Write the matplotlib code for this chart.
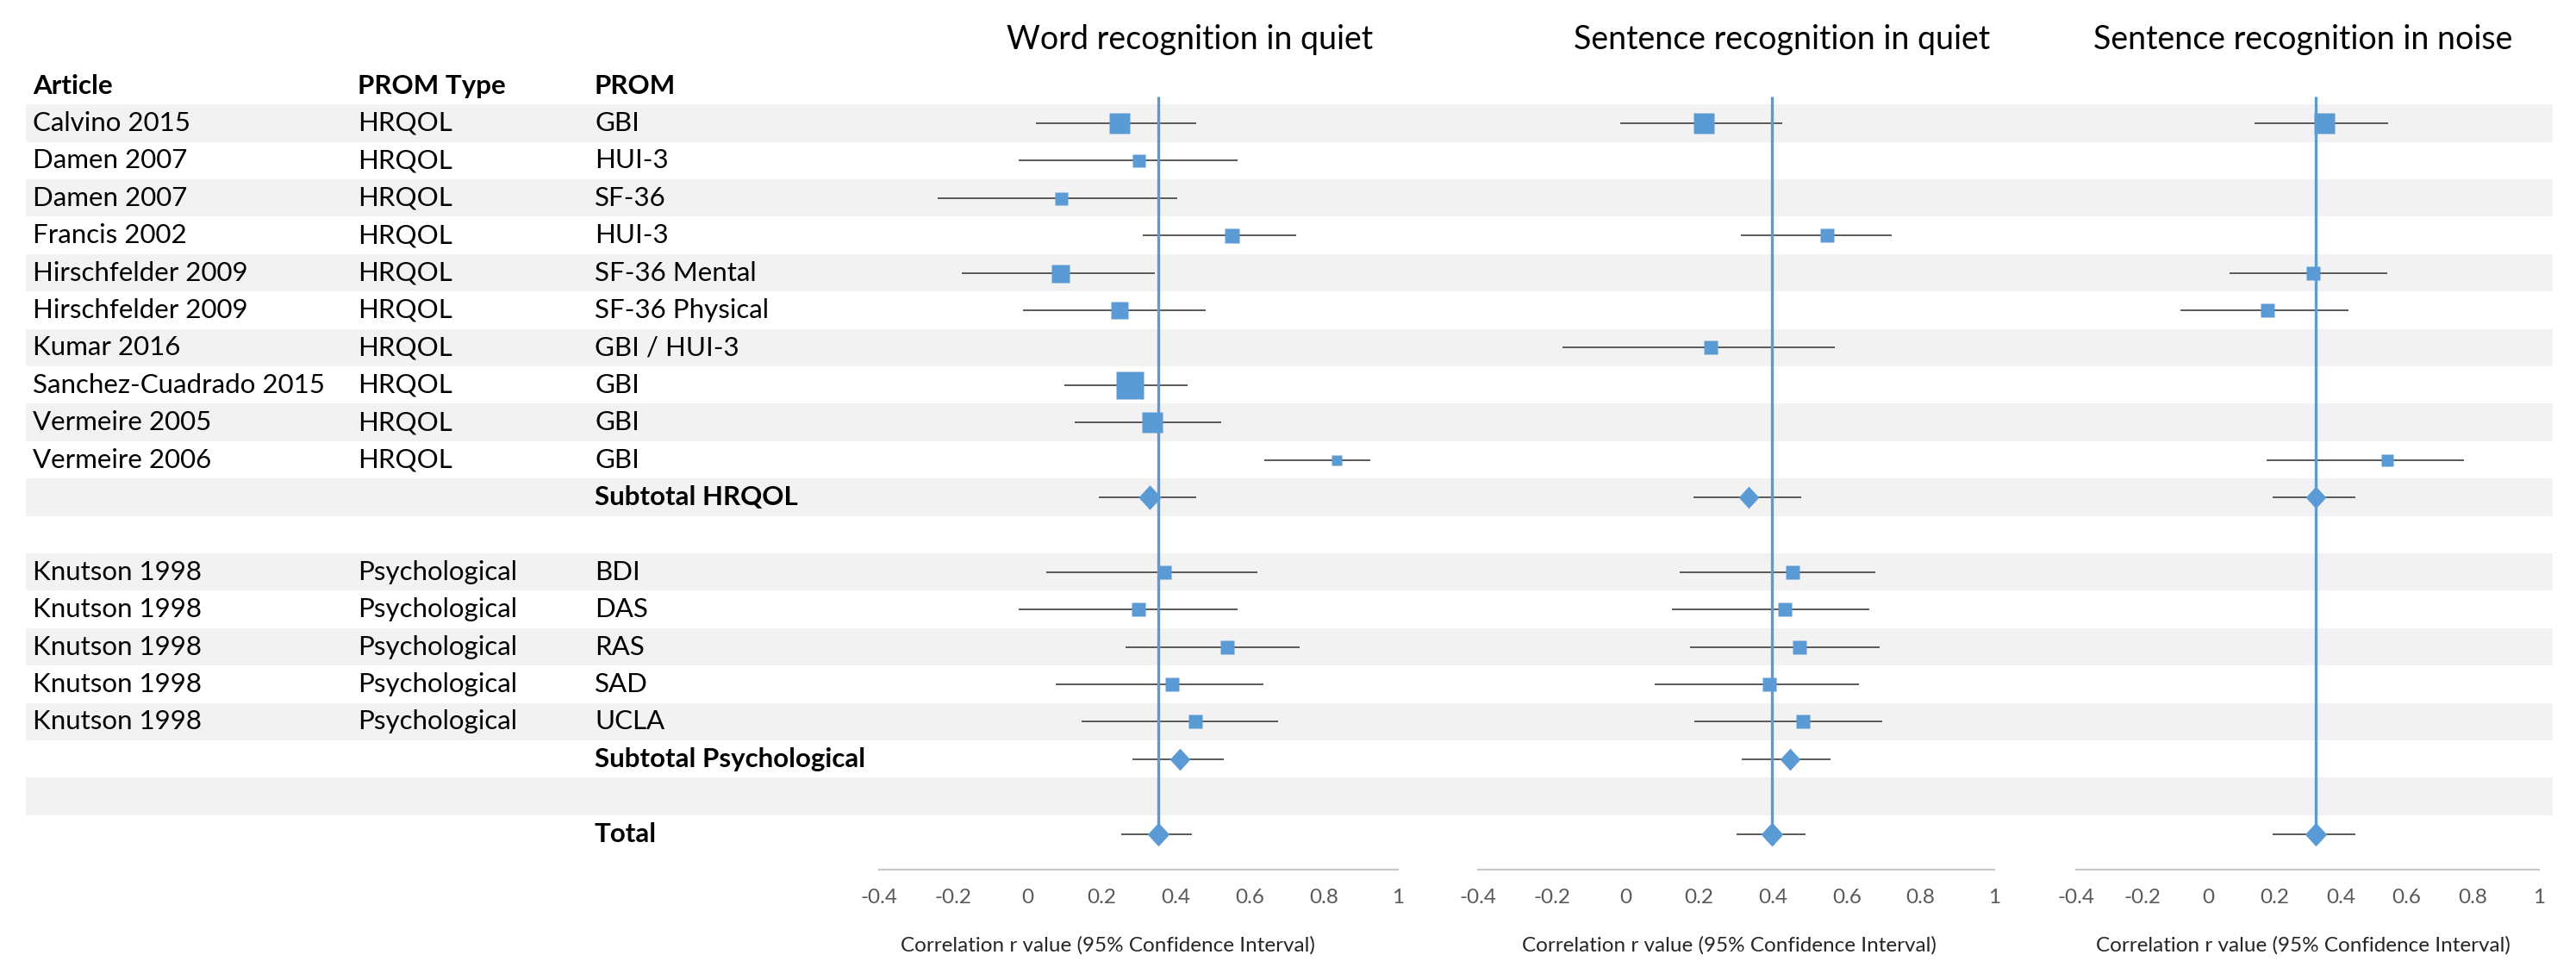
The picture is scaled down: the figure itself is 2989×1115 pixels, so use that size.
import numpy as np
import matplotlib
matplotlib.use('Agg')
import matplotlib.pyplot as plt

nan = np.nan
plt.rcParams['font.family'] = ['Lato', 'DejaVu Sans']

# ---------------- data ----------------
articles = ['Calvino 2015', 'Damen 2007', 'Damen 2007', 'Francis 2002', 'Hirschfelder 2009',
            'Hirschfelder 2009', 'Kumar 2016', 'Sanchez-Cuadrado 2015', 'Vermeire 2005', 'Vermeire 2006',
            '', '', 'Knutson 1998', 'Knutson 1998', 'Knutson 1998', 'Knutson 1998', 'Knutson 1998',
            '', '', '']
prom_types = ['HRQOL'] * 10 + ['', ''] + ['Psychological'] * 5 + ['', '', '']
proms = ['GBI', 'HUI-3', 'SF-36', 'HUI-3', 'SF-36 Mental', 'SF-36 Physical', 'GBI / HUI-3', 'GBI', 'GBI', 'GBI',
         'Subtotal HRQOL', '', 'BDI', 'DAS', 'RAS', 'SAD', 'UCLA', 'Subtotal Psychological', '', 'Total']
row_kind = ['study'] * 10 + ['pooled', 'blank'] + ['study'] * 5 + ['pooled', 'blank', 'pooled']

panel_titles = ['Word recognition in quiet', 'Sentence recognition in quiet', 'Sentence recognition in noise']
x_label = 'Correlation r value (95% Confidence Interval)'
tick_values = [-0.4, -0.2, 0, 0.2, 0.4, 0.6, 0.8, 1.0]
tick_labels = ['-0.4', '-0.2', '0', '0.2', '0.4', '0.6', '0.8', '1']

word_r = [0.249, 0.299, 0.091, 0.550, 0.089, 0.249, nan, 0.276, 0.337, 0.834,
          0.330, nan, 0.370, 0.299, 0.540, 0.391, 0.453, 0.411, nan, 0.353]
word_lo = [0.024, -0.024, -0.241, 0.312, -0.177, -0.012, nan, 0.100, 0.128, 0.640,
           0.192, nan, 0.052, -0.024, 0.264, 0.076, 0.147, 0.284, nan, 0.253]
word_hi = [0.456, 0.568, 0.405, 0.725, 0.345, 0.481, nan, 0.432, 0.524, 0.926,
           0.456, nan, 0.620, 0.568, 0.736, 0.637, 0.676, 0.531, nan, 0.444]
word_weight = [24.5, 15, 15, 17, 21, 20, nan, 32.6, 24.5, 12,
               28.6, nan, 15.6, 15.2, 15.6, 15.6, 16, 25.7, nan, 27.5]

sent_r = [0.212, nan, nan, 0.547, nan, nan, 0.230, nan, nan, nan,
          0.335, nan, 0.452, 0.431, 0.472, 0.391, 0.480, 0.445, nan, 0.396]
sent_lo = [-0.014, nan, nan, 0.312, nan, nan, -0.171, nan, nan, nan,
           0.184, nan, 0.147, 0.127, 0.176, 0.079, 0.187, 0.315, nan, 0.301]
sent_hi = [0.424, nan, nan, 0.721, nan, nan, 0.568, nan, nan, nan,
           0.476, nan, 0.677, 0.661, 0.689, 0.632, 0.697, 0.556, nan, 0.489]
sent_weight = [24, nan, nan, 16.5, nan, nan, 15.6, nan, nan, nan,
               25.7, nan, 15.6, 15.6, 15.6, 15.2, 15.2, 25.7, nan, 28]

noise_r = [0.351, nan, nan, nan, 0.318, 0.178, nan, nan, nan, 0.540,
           0.324, nan, nan, nan, nan, nan, nan, nan, nan, 0.324]
noise_lo = [0.140, nan, nan, nan, 0.064, -0.084, nan, nan, nan, 0.175,
            0.195, nan, nan, nan, nan, nan, nan, nan, nan, 0.195]
noise_hi = [0.544, nan, nan, nan, 0.540, 0.423, nan, nan, nan, 0.774,
            0.445, nan, nan, nan, nan, nan, nan, nan, nan, 0.445]
noise_weight = [24.4, nan, nan, nan, 16.8, 16.8, nan, nan, nan, 14.7,
                25.7, nan, nan, nan, nan, nan, nan, nan, nan, 27.5]

# ---------------- layout ----------------
W, H, DPI = 2989, 1115, 100
ROW1_PX, PITCH = 143.0, 43.4
PX2PT = 72.0 / DPI


def row_of(px):
    return 1 + (px - ROW1_PX) / PITCH


YLIM = (row_of(H), row_of(0))
BLUE = '#5B9BD5'
GREY_LINE = '#595959'
BAND = '#F2F2F2'
FS = 22.5

fig = plt.figure(figsize=(W / DPI, H / DPI), dpi=DPI)
fig.patch.set_facecolor('white')

bg = fig.add_axes([0, 0, 1, 1])
bg.set_xlim(0, W)
bg.set_ylim(*YLIM)
bg.axis('off')

n = len(proms)
rows = np.arange(1, n + 1)
for i in rows:
    if i % 2 == 1:
        bg.axhspan(i - 0.5, i + 0.5, xmin=30 / W, xmax=2962 / W, color=BAND, lw=0, zorder=0)

col_x = [38, 415, 690]
for x, h in zip(col_x, ['Article', 'PROM Type', 'PROM']):
    bg.text(x, 0, h, fontsize=FS, fontweight='bold', va='center', ha='left', color='black')
for i, a, t, p, k in zip(rows, articles, prom_types, proms, row_kind):
    bg.text(col_x[0], i, a, fontsize=FS, va='center', ha='left', color='black')
    bg.text(col_x[1], i, t, fontsize=FS, va='center', ha='left', color='black')
    bg.text(col_x[2], i, p, fontsize=FS, va='center', ha='left', color='black',
            fontweight='bold' if k == 'pooled' else 'normal')

diamond = [(0, 1), (0.92, 0), (0, -1), (-0.92, 0), (0, 1)]

panels = [
    (word_r, word_lo, word_hi, word_weight, (1020, 1622), 1381, 1285),
    (sent_r, sent_lo, sent_hi, sent_weight, (1715, 2314), 2068, 2006),
    (noise_r, noise_lo, noise_hi, noise_weight, (2409, 2946), 2672, 2672),
]

for title, (r, lo, hi, wt, (x0, x1), tx, lx) in zip(panel_titles, panels):
    r = np.array(r, float)
    lo = np.array(lo, float)
    hi = np.array(hi, float)
    wt = np.array(wt, float)
    ax = fig.add_axes([x0 / W, 0, (x1 - x0) / W, 1])
    ax.set_xlim(-0.4, 1.0)
    ax.set_ylim(*YLIM)
    ax.patch.set_alpha(0)
    for s in ['left', 'right', 'top']:
        ax.spines[s].set_visible(False)
    ax.spines['bottom'].set_position(('data', row_of(1009)))
    ax.spines['bottom'].set_color('#C8C8C8')
    ax.spines['bottom'].set_linewidth(1.6)
    ax.set_yticks([])
    ax.set_xticks(tick_values)
    ax.set_xticklabels(tick_labels, color='#595959', fontsize=17.5)
    ax.tick_params(axis='x', length=0, pad=16)

    m = ~np.isnan(r)
    ax.hlines(rows[m], lo[m], hi[m], color=GREY_LINE, lw=1.4, zorder=2)
    ax.vlines(r[-1], row_of(112), row_of(978), color=BLUE, lw=2.4, zorder=3)
    for i in rows[m]:
        k = row_kind[i - 1]
        mk = diamond if k == 'pooled' else 's'
        ax.plot(r[i - 1], i, marker=mk, ms=wt[i - 1] * PX2PT, color=BLUE, mec='none',
                linestyle='none', zorder=4)

    bg.text(tx, row_of(46), title, fontsize=27, ha='center', va='center', color='black')
    bg.text(lx, row_of(1097), x_label, fontsize=17.5, ha='center', va='center', color='#262626')

fig.savefig('out.png', dpi=DPI)
